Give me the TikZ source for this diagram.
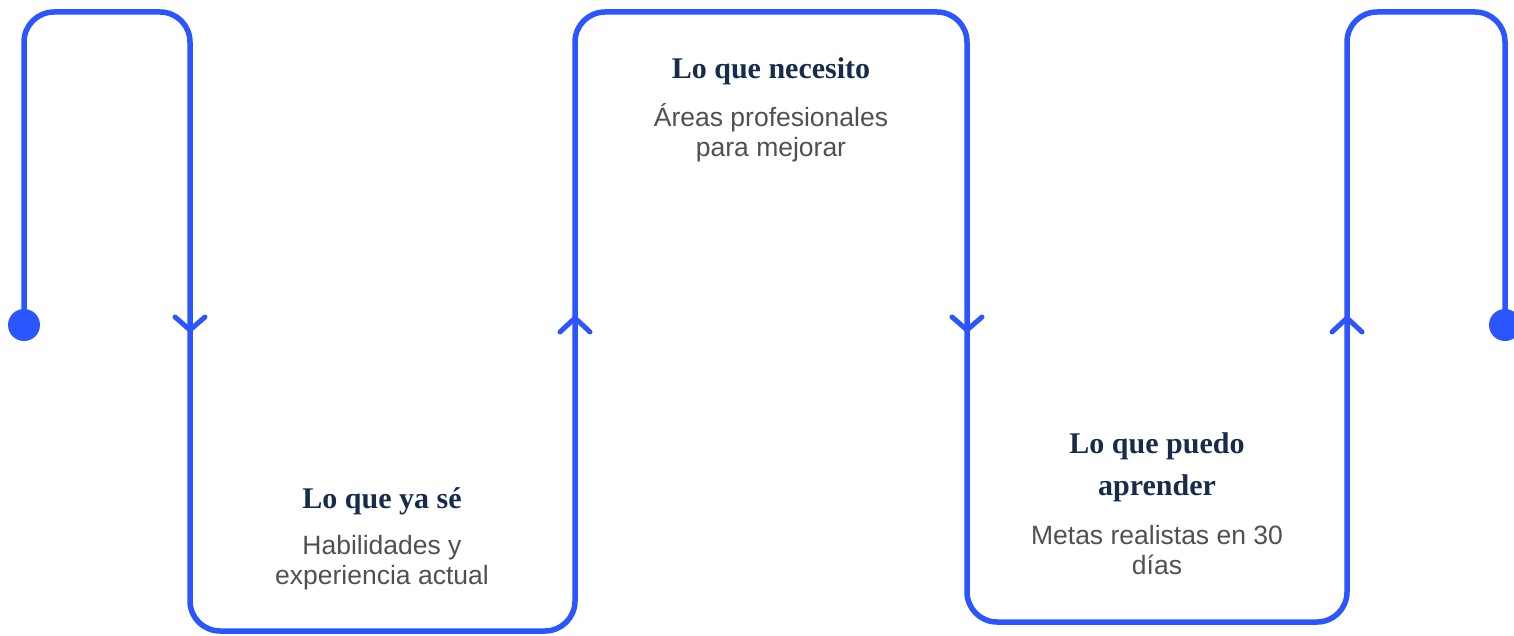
\documentclass[tikz,border=0pt]{standalone}
\usepackage{fontspec}
\setmainfont{Liberation Serif}
\setsansfont{Liberation Sans}
\definecolor{flowblue}{HTML}{2A55FF}
\definecolor{headnavy}{HTML}{172C4B}
\definecolor{bodygray}{HTML}{505050}
\tikzset{
  flow/.style={draw=flowblue, line width=5.5pt, rounded corners=30pt, line cap=round},
  flowtip/.style={draw=flowblue, line width=5pt, line cap=round, line join=round},
  enddot/.style={circle, fill=flowblue, minimum size=32pt, inner sep=0pt},
  headtext/.style={anchor=base, align=center, inner sep=0pt, text=headnavy,
    font=\rmfamily\bfseries\fontsize{30}{42}\selectfont},
  bodytext/.style={anchor=base, align=center, inner sep=0pt, text=bodygray,
    font=\sffamily\fontsize{26.5}{30}\selectfont},
}
\begin{document}
\begin{tikzpicture}
        [x=1pt,y=-1pt]
        \useasboundingbox (0,0) rectangle (1514,636);
        \node[enddot] (start) at (24,325) {};
        \node[enddot] (finish) at (1505,325) {};

        % the winding line
        \draw[flow] (start.center) -- (24,12) -- (190,12) -- (190,631)
          -- (575,631) -- (575,12) -- (967,12) -- (967,622)
          -- (1347,622) -- (1347,12) -- (1505,12) -- (finish.center);

        % direction marks
        \coordinate (down1) at (190,330);
        \coordinate (up1) at (575,318);
        \coordinate (down2) at (967,330);
        \coordinate (up2) at (1347,318);
        \foreach \p in {down1,down2}
        {\draw[flowtip] (\p) ++(-15,-13) -- (\p) -- ++(15,-13);}
        \foreach \p in {up1,up2}
        {\draw[flowtip] (\p) ++(-15,14) -- (\p) -- ++(15,14);}

        % texts (base = last line)
        \node[headtext] (head1) at (382,508) {Lo que ya sé};
        \node[bodytext] (body1) at (382,584) {Habilidades y\\experiencia actual};

        \node[headtext] (head2) at (771,79) {Lo que necesito};
        \node[bodytext] (body2) at (771,157) {Áreas profesionales\\para mejorar};

        \node[headtext] (head3) at (1157,495) {Lo que puedo\\aprender};
        \node[bodytext] (body3) at (1157,574) {Metas realistas en 30\\días};
      \end{tikzpicture}
\end{document}
